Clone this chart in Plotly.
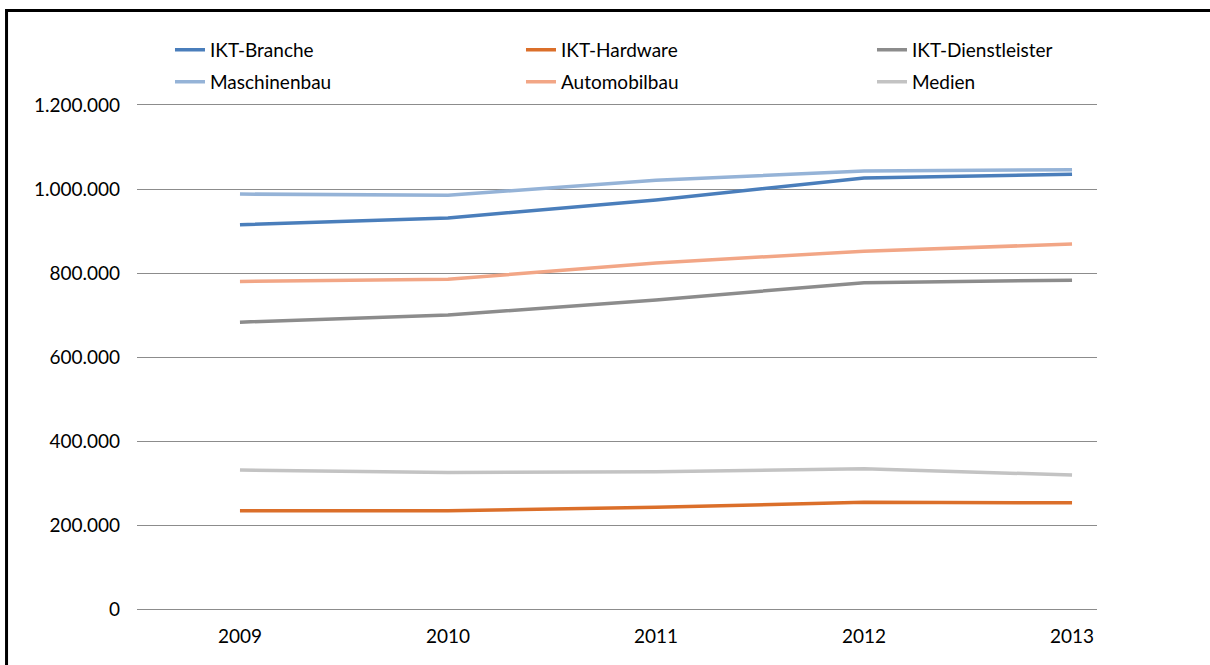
import plotly.graph_objects as go

# ── Data ─────────────────────────────────────────────────────────────────────
years = [2009, 2010, 2011, 2012, 2013]

ikt_branche = [915000, 931000, 974000, 1026000, 1035000]
ikt_hardware = [234000, 234000, 242000, 254000, 253000]
ikt_dienstleister = [683000, 700000, 736000, 777000, 783000]
maschinenbau = [988000, 985000, 1021000, 1043000, 1046000]
automobilbau = [780000, 785000, 824000, 852000, 869000]
medien = [331000, 325000, 327000, 334000, 319000]

y_ticks = [0, 200000, 400000, 600000, 800000, 1000000, 1200000]

FONT = "Lato"
GRID = "#8C8C8C"

# (name, values, colour, legend row)
series = [
    ("IKT-Branche", ikt_branche, "#4A7EBB", "legend"),
    ("IKT-Hardware", ikt_hardware, "#DB6F2A", "legend"),
    ("IKT-Dienstleister", ikt_dienstleister, "#8C8C8C", "legend"),
    ("Maschinenbau", maschinenbau, "#95B3D7", "legend2"),
    ("Automobilbau", automobilbau, "#F2A686", "legend2"),
    ("Medien", medien, "#C3C3C3", "legend2"),
]

fig = go.Figure()
for name, vals, color, leg in series:
    fig.add_trace(go.Scatter(
        x=years, y=vals, name=name, mode="lines",
        line=dict(color=color, width=3.5),
        legend=leg,
    ))

legend_common = dict(
    orientation="h",
    x=-0.0073, xanchor="left", yanchor="top",
    entrywidth=266,
    indentation=40,
    font=dict(family=FONT, size=19, color="#000000"),
    bgcolor="rgba(0,0,0,0)",
)

fig.update_layout(
    width=1210, height=665,
    paper_bgcolor="white", plot_bgcolor="white",
    separators=",.",
    margin=dict(l=137, r=113, t=105, b=56, autoexpand=False),
    font=dict(family=FONT, size=19, color="#000000"),
    legend=dict(y=1.1472, **legend_common),
    legend2=dict(y=1.0837, **legend_common),
    xaxis=dict(
        range=[2008.505, 2013.12],
        tickmode="array", tickvals=years, ticktext=[str(y) for y in years],
        showgrid=False, zeroline=False,
        # top/bottom lines stand in for the 0 and 1.200.000 gridlines
        showline=True, mirror=True, linecolor=GRID, linewidth=1,
        ticklabelstandoff=10,
        tickfont=dict(family=FONT, size=19, color="#000000"),
    ),
    yaxis=dict(
        range=[0, 1200000],
        tickmode="array", tickvals=y_ticks,
        tickformat=",d",
        showgrid=True, gridcolor=GRID, gridwidth=1,
        zeroline=False, showline=False,
        ticklabelstandoff=16,
        tickfont=dict(family=FONT, size=19, color="#000000"),
    ),
    shapes=[
        # outer frame of the exported chart (right/bottom edges are cut off)
        dict(type="rect", xref="paper", yref="paper",
             x0=-0.1359, x1=1.2, y0=-0.2, y1=1.1875,
             line=dict(color="black", width=3), fillcolor="rgba(0,0,0,0)",
             layer="above"),
    ],
)

fig.write_html(
    "out.html",
    config={"displayModeBar": False},
    post_script="document.body.style.margin='0';",
)
